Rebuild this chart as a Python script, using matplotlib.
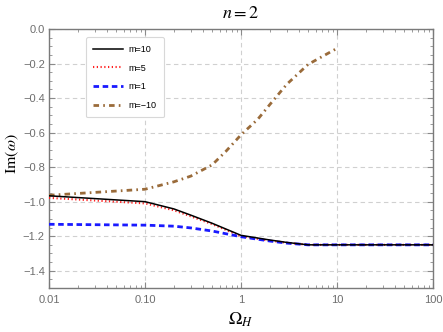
import matplotlib
matplotlib.use("Agg")
import matplotlib.pyplot as plt
from matplotlib.ticker import LogLocator, NullFormatter, MultipleLocator

plt.rcParams['mathtext.fontset'] = 'stix'
plt.rcParams['font.family'] = ['Liberation Sans', 'DejaVu Sans']

# Data
omega_m10 = [0.01, 0.1, 0.2, 0.3, 0.5, 1, 2, 3, 5, 10, 100]
im_m10 = [-0.966, -1.0, -1.042, -1.078, -1.125, -1.195, -1.222, -1.236, -1.25, -1.25, -1.25]

omega_m5 = [0.01, 0.1, 0.2, 0.3, 0.5, 1, 2, 3, 5, 10, 100]
im_m5 = [-0.978, -1.01, -1.05, -1.085, -1.13, -1.2, -1.226, -1.238, -1.25, -1.25, -1.25]

omega_m1 = [0.01, 0.1, 0.2, 0.3, 0.5, 1, 2, 3, 5, 10, 100]
im_m1 = [-1.131, -1.136, -1.142, -1.152, -1.17, -1.203, -1.228, -1.24, -1.25, -1.25, -1.25]

omega_mm10 = [0.01, 0.1, 0.2, 0.3, 0.5, 0.7, 1, 1.5, 2, 3, 5, 10]
im_mm10 = [-0.963, -0.928, -0.885, -0.852, -0.787, -0.707, -0.613, -0.522, -0.437, -0.32, -0.205, -0.112]

xticks = [0.01, 0.1, 1, 10, 100]
xticklabels = ["0.01", "0.10", "1", "10", "100"]
yticks = [0.0, -0.2, -0.4, -0.6, -0.8, -1.0, -1.2, -1.4]
yticklabels = ["0.0", "\u22120.2", "\u22120.4", "\u22120.6", "\u22120.8", "\u22121.0", "\u22121.2", "\u22121.4"]

fig = plt.figure(figsize=(4.43, 3.32), dpi=100)
ax = fig.add_axes([49/443, 44/332, 384/443, 259/332])

ax.plot(omega_m10, im_m10, color='black', lw=1.1, ls='-', label='m=10', zorder=4)
ax.plot(omega_m5, im_m5, color='#ff2020', lw=1.5, ls=(0, (0.6, 1.2)), label='m=5', zorder=3)
ax.plot(omega_m1, im_m1, color='#1a1aff', lw=2.0, ls=(0, (2, 1.3)), label='m=1', zorder=3)
ax.plot(omega_mm10, im_mm10, color='#9a6b3a', lw=2.0, ls=(0, (2, 1.5, 0.6, 1.5)), label='m=\u221210', zorder=3)

ax.set_xscale('log')
ax.set_xlim(0.01, 100)
ax.set_ylim(-1.5, 0.0)
ax.set_xticks(xticks)
ax.set_xticklabels(xticklabels)
ax.xaxis.set_minor_locator(LogLocator(base=10, subs=range(2, 10)))
ax.xaxis.set_minor_formatter(NullFormatter())
ax.set_yticks(yticks)
ax.set_yticklabels(yticklabels)
ax.yaxis.set_minor_locator(MultipleLocator(0.05))

gray = '#6e6e6e'
for sp in ax.spines.values():
    sp.set_color('#7a7a7a')
    sp.set_linewidth(1.0)
ax.tick_params(which='both', direction='in', colors='#8a8a8a', labelcolor=gray,
               top=True, right=True, labelsize=8)
ax.tick_params(which='major', length=4, width=0.8)
ax.tick_params(which='minor', length=2, width=0.6)
ax.tick_params(axis='x', which='major', pad=5)
ax.tick_params(axis='y', which='major', pad=3)

ax.grid(True, which='major', color='#d0d0d0', ls=(0, (4, 3)), lw=0.8)
ax.set_axisbelow(True)

ax.set_xlabel(r'$\Omega_H$', fontsize=13, labelpad=4)
ax.set_ylabel(r'$\mathrm{Im}(\omega)$', fontsize=11.5)
ax.yaxis.set_label_coords(-0.073, 0.52)
ax.set_title(r'$n=2$', fontsize=13, pad=8)

leg = ax.legend(loc='upper left', bbox_to_anchor=(0.0956, 0.968), borderaxespad=0,
                prop={'family': 'Liberation Sans', 'size': 6.5},
                handlelength=3.3, labelspacing=1.06, borderpad=0.85,
                handletextpad=0.55, frameon=True, fancybox=True)
leg.get_frame().set_edgecolor('#d8d8d8')
leg.get_frame().set_linewidth(0.8)
leg.get_frame().set_alpha(1.0)

fig.savefig('out.png', dpi=100)
